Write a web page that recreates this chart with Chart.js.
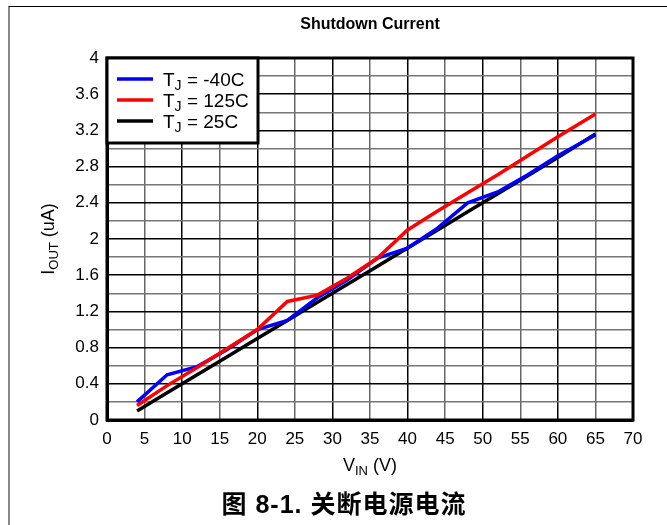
<!doctype html>
<html lang="zh">
<head>
  <meta charset="UTF-8">
  <title>Shutdown Current</title>
  <script src="https://cdn.jsdelivr.net/npm/chart.js"></script>
  <style>
    html, body { margin: 0; padding: 0; background: #fff; }
    #wrap { position: relative; width: 667px; height: 525px; overflow: hidden; }
    #frame { position: absolute; left: 8px; top: 6px; right: -10px; bottom: -10px;
             border-left: 2px solid #888; border-top: 1px solid #000; }
    #fig { position: absolute; left: 0; top: 0; }
    #caption { position: absolute; left: 0; width: 688px; top: 484px; text-align: center; letter-spacing: 1px;
               font: bold 25px "Liberation Sans", Arial, "Noto Sans CJK SC", sans-serif; color: #000; }
  </style>
</head>
<body>
<div id="wrap">
  <div id="frame"></div>
  <canvas id="fig" width="667" height="525"></canvas>
  <div id="caption">图 8-1. 关断电源电流</div>
</div>
<script>
  // Input voltage points (V)
  const vin = [4, 8, 12, 16, 20, 24, 28, 32, 36, 40, 44, 48, 52, 56, 60, 65];

  // Shutdown current (uA) per junction temperature
  const iMinus40 = [0.2, 0.5, 0.59, 0.78, 1.0, 1.1, 1.35, 1.55, 1.79, 1.9, 2.12, 2.4, 2.52, 2.71, 2.92, 3.15];
  const i125     = [0.16, 0.38, 0.58, 0.79, 1.0, 1.31, 1.38, 1.57, 1.79, 2.1, 2.31, 2.51, 2.71, 2.92, 3.13, 3.38];
  const i25      = [0.1, 0.3, 0.5, 0.7, 0.9, 1.1, 1.3, 1.5, 1.7, 1.9, 2.1, 2.3, 2.5, 2.7, 2.9, 3.16];

  const seriesNames = ['-40C', '125C', '25C'];
  const seriesColors = ['#0000ff', '#ff0000', '#000000'];

  const FONT = '"Liberation Sans", Arial, sans-serif';

  const toXY = ys => ys.map((y, i) => ({ x: vin[i], y: y }));

  // text with a subscript part: main + sub + rest
  function subText(ctx, x, y, main, sub, rest, size, align) {
    const subSize = Math.round(size * 0.72);
    ctx.font = size + 'px ' + FONT;
    const w1 = ctx.measureText(main).width;
    const w3 = ctx.measureText(rest).width;
    ctx.font = subSize + 'px ' + FONT;
    const w2 = ctx.measureText(sub).width;
    const x0 = align === 'center' ? x - (w1 + w2 + w3) / 2 : x;
    ctx.textAlign = 'left';
    ctx.textBaseline = 'alphabetic';
    ctx.font = size + 'px ' + FONT;
    ctx.fillText(main, x0, y);
    ctx.font = subSize + 'px ' + FONT;
    ctx.fillText(sub, x0 + w1, y + size * 0.22);
    ctx.font = size + 'px ' + FONT;
    ctx.fillText(rest, x0 + w1 + w2, y);
  }

  const decorations = {
    id: 'decorations',
    beforeDatasetsDraw(chart) {
      const { ctx, chartArea: a } = chart;
      ctx.save();
      ctx.strokeStyle = '#000';
      ctx.lineWidth = 3;
      ctx.strokeRect(a.left, a.top, a.right - a.left, a.bottom - a.top);
      ctx.restore();
    },
    afterDraw(chart) {
      const { ctx, chartArea: a } = chart;
      ctx.save();
      ctx.fillStyle = '#000';

      // title
      ctx.font = 'bold 16px ' + FONT;
      ctx.textAlign = 'center';
      ctx.textBaseline = 'middle';
      ctx.fillText('Shutdown Current', (a.left + a.right) / 2, 25);

      // x axis title
      subText(ctx, (a.left + a.right) / 2, 471, 'V', 'IN', ' (V)', 18, 'center');

      // y axis title, rotated
      ctx.save();
      ctx.translate(54, (a.top + a.bottom) / 2);
      ctx.rotate(-Math.PI / 2);
      subText(ctx, 0, 0, 'I', 'OUT', ' (uA)', 18, 'center');
      ctx.restore();

      // legend box in the upper left corner
      const bx = a.left, by = a.top, bw = 151, bh = 85;
      ctx.fillStyle = '#fff';
      ctx.fillRect(bx, by, bw, bh);
      ctx.strokeStyle = '#000';
      ctx.lineWidth = 3;
      ctx.strokeRect(bx, by, bw, bh);
      chart.data.datasets.forEach((ds, i) => {
        const yy = by + 21 + i * 21;
        ctx.strokeStyle = ds.borderColor;
        ctx.lineWidth = 3.5;
        ctx.beginPath();
        ctx.moveTo(bx + 10, yy);
        ctx.lineTo(bx + 46, yy);
        ctx.stroke();
        ctx.fillStyle = '#000';
        subText(ctx, bx + 56, yy + 7, 'T', 'J', ' = ' + seriesNames[i], 19, 'left');
      });
      ctx.restore();
    }
  };

  const isMajorY = v => Math.round(v * 10) % 4 === 0;

  new Chart(document.getElementById('fig'), {
    type: 'line',
    data: {
      datasets: [
        { label: seriesNames[0], data: toXY(iMinus40), borderColor: seriesColors[0], order: 1 },
        { label: seriesNames[1], data: toXY(i125), borderColor: seriesColors[1], order: 0 },
        { label: seriesNames[2], data: toXY(i25), borderColor: seriesColors[2], order: 2 }
      ].map(d => Object.assign(d, { borderWidth: 3.5, pointRadius: 0, tension: 0, fill: false }))
    },
    options: {
      responsive: false,
      animation: false,
      layout: { padding: { top: 58, right: 34, left: 0, bottom: 0 } },
      plugins: { legend: { display: false }, title: { display: false }, tooltip: { enabled: false } },
      scales: {
        x: {
          type: 'linear', min: 0, max: 70,
          afterFit: s => { s.height = 105; },
          ticks: { stepSize: 5, padding: 9, color: '#000', font: { family: FONT, size: 17 } },
          grid: { color: ctx => (ctx.tick && ctx.tick.value % 10 === 0 ? '#000' : '#666'), lineWidth: 1.5, drawTicks: false },
          border: { color: '#000', width: 3 }
        },
        y: {
          type: 'linear', min: 0, max: 4,
          afterFit: s => { s.width = 107; },
          ticks: {
            stepSize: 0.2, padding: 8, color: '#000', autoSkip: false,
            font: { family: FONT, size: 17 },
            callback: v => (isMajorY(v) ? String(+v.toFixed(1)) : '')
          },
          grid: { color: ctx => (ctx.tick && isMajorY(ctx.tick.value) ? '#000' : '#777'), lineWidth: 1.5, drawTicks: false },
          border: { color: '#000', width: 3 }
        }
      }
    },
    plugins: [decorations]
  });
</script>
</body>
</html>
